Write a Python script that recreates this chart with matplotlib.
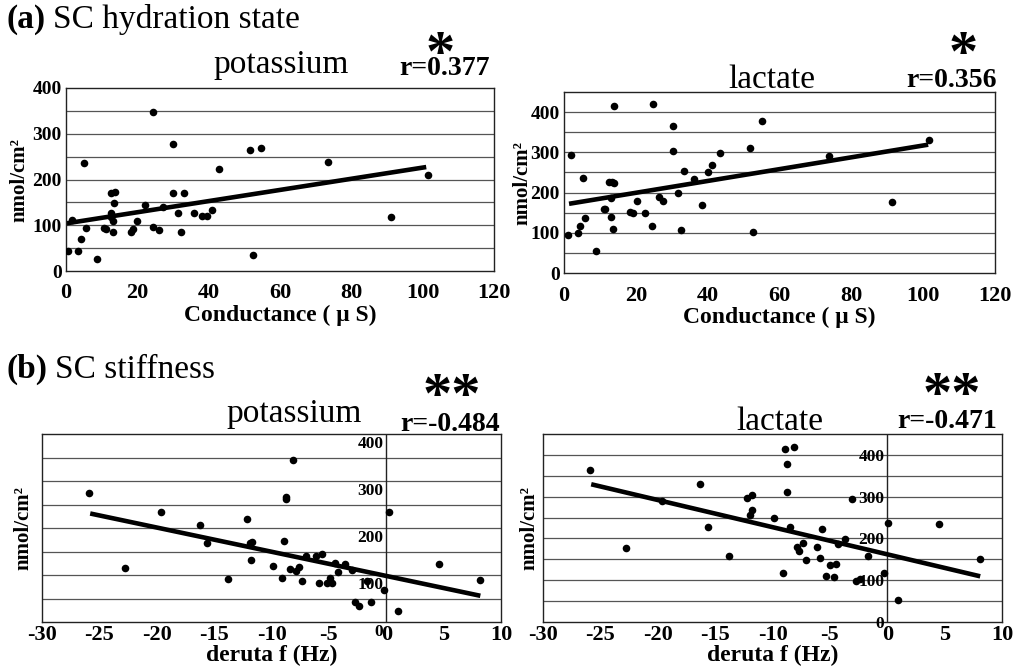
import numpy as np
import matplotlib
matplotlib.use('Agg')
import matplotlib.pyplot as plt
from matplotlib import transforms

plt.rcParams['font.family'] = ['Liberation Serif', 'DejaVu Serif']

# ---- (a) conductance (uS) vs sweat ions (nmol/cm2) ----
cond_k = [0.7, 1.7, 3.5, 4.1, 5.0, 5.5, 8.6, 10.6, 11.3, 12.7, 13.6, 12.7, 12.7,
          13.1, 13.5, 13.3, 18.2, 18.9, 19.9, 22.2, 24.5, 24.3, 26.2, 27.1, 29.9,
          29.9, 31.4, 32.2, 33.0, 36.0, 38.0, 39.6, 40.9, 43.0, 51.6, 52.5, 54.7,
          73.5, 91.0, 101.4]
k_cond = [43, 111, 43, 69, 235, 94, 26, 93, 91, 170, 173, 127, 118,
          110, 148, 86, 86, 91, 109, 144, 348, 97, 89, 140, 278,
          171, 126, 86, 170, 126, 120, 120, 133, 222, 265, 34, 269,
          238, 118, 210]

cond_lac = [1.0, 1.9, 3.8, 4.5, 5.2, 5.9, 8.9, 11.0, 11.5, 12.6, 13.3, 13.9,
            13.0, 13.0, 13.6, 13.9, 18.5, 19.2, 20.2, 22.6, 24.6, 24.9, 26.5,
            27.6, 30.3, 30.3, 31.7, 32.5, 33.4, 36.2, 38.3, 40.0, 41.2, 43.3,
            51.8, 52.7, 55.0, 73.9, 91.2, 101.7]
lac_cond = [95, 294, 99, 117, 236, 136, 54, 158, 158, 227, 226, 223,
            186, 138, 110, 416, 151, 150, 179, 149, 118, 420, 188,
            179, 366, 304, 199, 106, 254, 234, 170, 250, 269, 298,
            310, 102, 379, 290, 176, 331]

# ---- (b) delta f (Hz) vs sweat ions (nmol/cm2) ----
df_k = [-25.9, -22.8, -19.6, -16.2, -15.6, -13.8, -12.1, -11.9, -11.7, -11.8,
        -9.9, -9.1, -8.9, -8.7, -8.7, -8.1, -8.4, -7.9, -7.6, -7.3, -7.0,
        -6.1, -5.9, -5.6, -5.2, -4.9, -4.7, -4.5, -4.2, -3.6, -3.0, -2.7,
        -2.4, -1.7, -1.3, -0.2, 0.2, 1.0, 4.6, 8.2]
k_df = [274, 115, 234, 206, 169, 92, 220, 168, 170, 132,
        120, 94, 173, 266, 261, 344, 112, 108, 117, 87, 141,
        140, 84, 145, 84, 94, 84, 126, 107, 124, 110, 42,
        34, 87, 42, 68, 233, 24, 124, 90]

df_lac = [-25.9, -22.8, -19.6, -16.3, -15.6, -13.8, -12.2, -11.8, -11.8, -12.0,
          -9.9, -9.1, -8.9, -8.7, -8.7, -8.5, -8.1, -7.9, -7.7, -7.3, -7.1,
          -6.1, -5.9, -5.7, -5.3, -5.0, -4.6, -4.5, -4.3, -3.7, -3.1, -2.7,
          -2.4, -1.7, -0.3, 0.1, 0.9, 4.5, 8.1]
lac_df = [365, 176, 289, 330, 227, 157, 297, 304, 268, 255,
          249, 117, 415, 378, 310, 227, 419, 180, 171, 188, 149,
          180, 152, 223, 109, 137, 107, 139, 187, 199, 295, 99,
          103, 159, 117, 236, 53, 235, 151]

# regression lines: (intercept, slope), x range
fit_k_cond = (104, 1.22)
fit_lac_cond = (170, 1.47)
fit_k_df = (98, -5.15)
fit_lac_df = (162, -6.5)
fitx_k_cond = [0.0, 101.0]
fitx_lac_cond = [1.4, 101.4]
fitx_k_df = [-25.8, 8.2]
fitx_lac_df = [-25.8, 8.1]

titles = ['potassium', 'lactate', 'potassium', 'lactate']
r_labels = ['r=0.377', 'r=0.356', 'r=-0.484', 'r=-0.471']
stars = ['*', '*', '**', '**']

W, H = 1033, 670
fig = plt.figure(figsize=(W / 100, H / 100), dpi=100)


def rect(x0, y0, x1, y1):
    # pixel box (top-left origin) -> figure fraction
    return [x0 / W, 1 - y1 / H, (x1 - x0) / W, (y1 - y0) / H]


def panel(box, x, y, fit, fitx, xlim, xticks, ytop, inner_y, xlabel, ylab_x):
    ax = fig.add_axes(rect(*box))
    for g in np.arange(50, ytop, 50):
        ax.axhline(g, color='#555555', lw=0.9, zorder=1)
    xs = np.array(fitx)
    ax.plot(xs, fit[0] + fit[1] * xs, color='black', lw=3.3,
            solid_capstyle='butt', zorder=2)
    ax.scatter(x, y, s=30, color='black', zorder=3, linewidths=0)
    ax.set_xlim(*xlim)
    ax.set_ylim(0, ytop)
    ax.set_xticks(xticks, labels=[str(t) for t in xticks],
                  fontweight='bold', fontsize=16)
    ax.tick_params(length=0)
    for s in ax.spines.values():
        s.set_linewidth(1.0)
        s.set_color('#222222')
    if inner_y:
        ax.tick_params(axis='x', pad=2)
        ax.set_yticks([])
        ax.axvline(0, color='#222222', lw=1.0, zorder=1)
        off = transforms.offset_copy(ax.transData, fig=fig, x=-3, y=-2,
                                     units='dots')
        for v in range(0, 401, 100):
            ax.text(0, v, str(v), transform=off, ha='right',
                    va='top' if ytop == 400 else 'center',
                    fontsize=12.5, fontweight='bold', zorder=4)
        ax.set_xlabel(xlabel, fontsize=17, fontweight='bold', labelpad=0)
    else:
        ax.tick_params(axis='x', pad=9)
        ax.tick_params(axis='y', pad=3)
        yt = list(range(0, 401, 100))
        ax.set_yticks(yt, labels=[str(t) for t in yt],
                      fontweight='bold', fontsize=14)
        ax.set_xlabel(xlabel, fontsize=17, fontweight='bold', labelpad=1)
    ax.set_ylabel('nmol/cm\u00b2', fontsize=15, fontweight='bold')
    ax.yaxis.set_label_coords(ylab_x, 0.5)
    return ax


cond_label = 'Conductance ( \u03bc S)'
df_label = 'deruta f (Hz)'

panel((66, 88, 494, 271), cond_k, k_cond, fit_k_cond, fitx_k_cond,
      (0, 120), list(range(0, 121, 20)), 400, False, cond_label, -0.086)
panel((564, 92, 995, 273), cond_lac, lac_cond, fit_lac_cond, fitx_lac_cond,
      (0, 120), list(range(0, 121, 20)), 450, False, cond_label, -0.073)
panel((42, 434, 501, 622), df_k, k_df, fit_k_df, fitx_k_df,
      (-30, 10), list(range(-30, 11, 5)), 400, True, df_label, -0.018)
panel((543, 434, 1002, 622), df_lac, lac_df, fit_lac_df, fitx_lac_df,
      (-30, 10), list(range(-30, 11, 5)), 450, True, df_label, -0.008)


def ftext(px, py, s, **kw):
    fig.text(px / W, 1 - py / H, s, **kw)


# section headings
ftext(7, 28, '(a)', fontsize=24, fontweight='bold', va='baseline')
ftext(53, 28, 'SC hydration state', fontsize=24, va='baseline')
ftext(7, 378, '(b)', fontsize=24, fontweight='bold', va='baseline')
ftext(55, 378, 'SC stiffness', fontsize=24, va='baseline')

# panel titles, r values and significance marks
title_pos = [(281, 73), (772, 88), (294, 422), (780, 430)]
r_pos = [(490, 75), (997, 87), (500, 431), (997, 428)]
star_pos = [(440, 45), (963, 45), (452, 387), (952, 386)]
for t, (tx, ty), r, (rx, ry), st, (sx, sy) in zip(titles, title_pos, r_labels,
                                                  r_pos, stars, star_pos):
    ftext(tx, ty, t, fontsize=24, ha='center', va='baseline')
    ftext(rx, ry, r, fontsize=20, fontweight='bold', ha='right', va='baseline')
    ftext(sx, sy + 25, st, fontsize=42, fontweight='bold', ha='center',
          va='baseline')

fig.savefig('out.png', dpi=100)
